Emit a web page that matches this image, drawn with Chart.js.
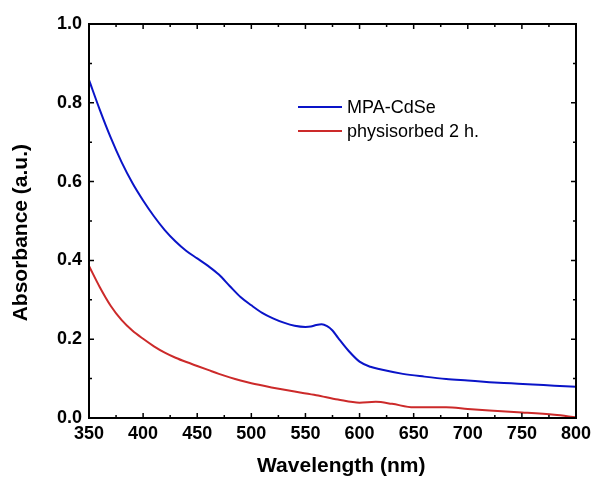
<!DOCTYPE html>
<html>
<head>
<meta charset="utf-8">
<title>Absorbance spectra</title>
<script src="https://cdn.jsdelivr.net/npm/chart.js@4.4.1/dist/chart.umd.min.js"></script>
<style>
  html, body { margin: 0; padding: 0; background: #fff; }
</style>
</head>
<body>
<canvas id="absChart" width="595" height="482"></canvas>
<script>
// MPA-capped CdSe in solution
const wlCdSe = [350, 360, 370, 380, 390, 400, 410, 420, 430, 440, 450, 460, 470, 480, 490,
  500, 510, 520, 530, 540, 550, 555, 560, 565, 570, 575, 580, 590, 600, 610, 620, 640, 660,
  680, 700, 720, 740, 760, 780, 800];
const absCdSe = [0.858, 0.782, 0.712, 0.650, 0.597, 0.552, 0.512, 0.477, 0.448, 0.424, 0.405,
  0.386, 0.364, 0.335, 0.307, 0.286, 0.267, 0.253, 0.242, 0.234, 0.231, 0.232, 0.236, 0.238,
  0.233, 0.222, 0.204, 0.170, 0.143, 0.130, 0.123, 0.112, 0.105, 0.099, 0.095, 0.091, 0.088,
  0.085, 0.082, 0.079];

// film after 2 h physisorption
const wlPhys = [350, 360, 370, 380, 390, 400, 410, 420, 430, 440, 450, 460, 470, 480, 490,
  500, 520, 540, 560, 580, 600, 615, 630, 650, 680, 700, 720, 750, 780, 800];
const absPhys = [0.386, 0.332, 0.285, 0.249, 0.222, 0.201, 0.182, 0.166, 0.153, 0.142, 0.132,
  0.122, 0.112, 0.103, 0.095, 0.088, 0.077, 0.067, 0.058, 0.047, 0.039, 0.041, 0.036, 0.027,
  0.027, 0.023, 0.019, 0.014, 0.008, 0.002];

const seriesNames = ['MPA-CdSe', 'physisorbed 2 h.'];
const xTickValues = [350, 400, 450, 500, 550, 600, 650, 700, 750, 800];
const yTickValues = [0.0, 0.2, 0.4, 0.6, 0.8, 1.0];

const FONT = '"Liberation Sans", Arial, Helvetica, sans-serif';

function toPoints(xs, ys) {
  return xs.map((v, i) => ({ x: v, y: ys[i] }));
}

// closed frame with inward major/minor ticks on all four sides
const frameTicks = {
  id: 'frameTicks',
  afterDatasetsDraw(chart) {
    const { ctx, chartArea: a, scales: { x, y } } = chart;
    const major = 5, minor = 3;
    ctx.save();
    ctx.strokeStyle = '#000';
    ctx.lineWidth = 2;
    ctx.strokeRect(a.left, a.top, a.right - a.left, a.bottom - a.top);

    ctx.lineWidth = 1.5;
    ctx.beginPath();
    xTickValues.forEach((v, i) => {
      const px = x.getPixelForValue(v);
      ctx.moveTo(px, a.bottom); ctx.lineTo(px, a.bottom - major);
      ctx.moveTo(px, a.top); ctx.lineTo(px, a.top + major);
      if (i < xTickValues.length - 1) {
        const mx = x.getPixelForValue((v + xTickValues[i + 1]) / 2);
        ctx.moveTo(mx, a.bottom); ctx.lineTo(mx, a.bottom - minor);
        ctx.moveTo(mx, a.top); ctx.lineTo(mx, a.top + minor);
      }
    });
    yTickValues.forEach((v, i) => {
      const py = y.getPixelForValue(v);
      ctx.moveTo(a.left, py); ctx.lineTo(a.left + major, py);
      ctx.moveTo(a.right, py); ctx.lineTo(a.right - major, py);
      if (i < yTickValues.length - 1) {
        const my = y.getPixelForValue((v + yTickValues[i + 1]) / 2);
        ctx.moveTo(a.left, my); ctx.lineTo(a.left + minor, my);
        ctx.moveTo(a.right, my); ctx.lineTo(a.right - minor, my);
      }
    });
    ctx.stroke();
    ctx.restore();
  }
};

// legend drawn inside the plot, upper right
const insideLegend = {
  id: 'insideLegend',
  afterDraw(chart) {
    const { ctx, chartArea: a } = chart;
    const x0 = a.left + 209, lineLen = 44, y0 = a.top + 83, rowH = 24;
    ctx.save();
    ctx.font = '18px ' + FONT;
    ctx.textBaseline = 'middle';
    ctx.textAlign = 'left';
    chart.data.datasets.forEach((ds, i) => {
      const yy = y0 + i * rowH;
      ctx.strokeStyle = ds.borderColor;
      ctx.lineWidth = 2;
      ctx.beginPath();
      ctx.moveTo(x0, yy);
      ctx.lineTo(x0 + lineLen, yy);
      ctx.stroke();
      ctx.fillStyle = '#000';
      ctx.fillText(ds.label, x0 + lineLen + 5, yy + 1);
    });
    ctx.restore();
  }
};

const ctx = document.getElementById('absChart');

new Chart(ctx, {
  type: 'line',
  data: {
    datasets: [{
      label: seriesNames[0],
      data: toPoints(wlCdSe, absCdSe),
      borderColor: '#0a14c8',
      borderWidth: 2,
      pointRadius: 0,
      cubicInterpolationMode: 'monotone'
    }, {
      label: seriesNames[1],
      data: toPoints(wlPhys, absPhys),
      borderColor: '#cc2a2a',
      borderWidth: 2,
      pointRadius: 0,
      cubicInterpolationMode: 'monotone'
    }]
  },
  options: {
    responsive: false,
    animation: false,
    layout: { padding: { top: 24, right: 19, left: 0, bottom: 0 } },
    plugins: {
      legend: { display: false },
      tooltip: { enabled: false }
    },
    scales: {
      x: {
        type: 'linear',
        min: 350,
        max: 800,
        afterBuildTicks(scale) {
          scale.ticks = xTickValues.map(v => ({ value: v }));
        },
        afterFit(scale) {
          scale.height = 64;
          scale.paddingLeft = 0;
          scale.paddingRight = 0;
        },
        grid: { display: false, drawTicks: false },
        border: { display: false },
        ticks: {
          padding: 5,
          maxRotation: 0,
          autoSkip: false,
          color: '#000',
          font: { family: FONT, size: 18, weight: 'bold' }
        },
        title: {
          display: true,
          text: '   Wavelength (nm)',
          color: '#000',
          padding: { top: 0, bottom: 3 },
          font: { family: FONT, size: 21, weight: 'bold' }
        }
      },
      y: {
        min: 0,
        max: 1,
        afterBuildTicks(scale) {
          scale.ticks = yTickValues.map(v => ({ value: v }));
        },
        afterFit(scale) {
          scale.width = 89;
          scale.paddingTop = 0;
          scale.paddingBottom = 0;
        },
        grid: { display: false, drawTicks: false },
        border: { display: false },
        ticks: {
          padding: 7,
          autoSkip: false,
          color: '#000',
          font: { family: FONT, size: 18, weight: 'bold' },
          callback: v => v.toFixed(1)
        },
        title: {
          display: true,
          text: 'Absorbance (a.u.)    ',
          color: '#000',
          padding: { top: 9, bottom: 0 },
          font: { family: FONT, size: 21, weight: 'bold' }
        }
      }
    }
  },
  plugins: [frameTicks, insideLegend]
});
</script>
</body>
</html>
